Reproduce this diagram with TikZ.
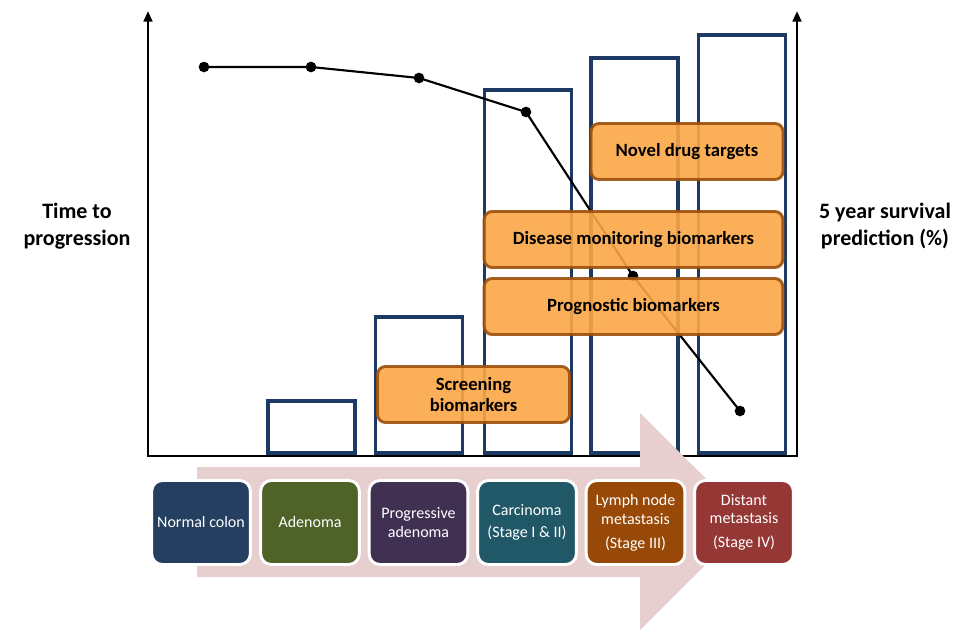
\documentclass[tikz,border=0pt]{standalone}
\usepackage{fontspec}
\setmainfont{Carlito}
\usetikzlibrary{arrows.meta,positioning}

\definecolor{barblue}{RGB}{28,58,100}
\definecolor{markfill}{RGB}{251,166,70}
\definecolor{markedge}{RGB}{156,80,12}
\definecolor{flowpink}{RGB}{231,206,207}
\definecolor{stnavy}{RGB}{36,63,96}
\definecolor{stolive}{RGB}{79,98,40}
\definecolor{stplum}{RGB}{64,49,82}
\definecolor{stteal}{RGB}{33,88,104}
\definecolor{strust}{RGB}{152,72,7}
\definecolor{stred}{RGB}{149,55,53}

\tikzset{
	axisline/.style={line width=2.2pt, black},
	axistip/.style={-{Triangle[length=8pt,width=6.5pt]}},
	barline/.style={line width=2.4pt, barblue},
	trendline/.style={line width=1.6pt, black},
	markbox/.style={draw=markedge, fill=markfill, line width=2.2pt, rounded corners=6pt,
		opacity=0.9, text opacity=1, align=center, font=\fontsize{14}{16}\selectfont\bfseries,
		minimum height=42pt},
	stagebox/.style={draw=white, line width=2.2pt, rounded corners=8pt, text=white,
		minimum width=74pt, minimum height=63pt, align=center,
		font=\fontsize{12}{14}\selectfont},
	sidelabel/.style={align=center, font=\fontsize{16.5}{20}\selectfont\bfseries}
}

\begin{document}
\begin{tikzpicture}[x=0.75pt, y=-0.75pt]
	\useasboundingbox (0,0) rectangle (956,630);

	% axes
	\coordinate (origin) at (148,456);
	\coordinate (ytop) at (148,11);
	\coordinate (xend) at (797,456);
	\coordinate (ytopright) at (797,11);
	\draw [axisline, axistip] (origin) -- (ytop);
	\draw [axisline, axistip] (xend) -- (ytopright);
	\draw [axisline] ([xshift=-1.1pt]origin) -- ([xshift=1.1pt]xend);

	% bars
	\foreach \x/\h in {311.5/401, 419/317, 528/90, 634.5/58, 742/35} {
		\draw [barline] (\x-43.5,453) rectangle (\x+43.5,\h);
	}

	% survival line
	\foreach \n/\x/\y in {1/204/67, 2/311/67, 3/419/78, 4/526/112, 5/633/276, 6/740/411} {
		\coordinate (p\n) at (\x,\y);
	}
	\draw [trendline] (p1) -- (p2) -- (p3) -- (p4) -- (p5) -- (p6);
	\foreach \n in {1, ..., 6} {
		\fill (p\n) circle (4pt);
	}

	% biomarker boxes
	\node [markbox, minimum width=144pt] (screen) at (473.5,394.5) {Screening\\biomarkers};
	\node [markbox, minimum width=144pt] (drugs) at (687,151.5) {Novel drug targets};
	\node [markbox, minimum width=224pt] (monitor) at (633.5,239.5) {Disease monitoring biomarkers};
	\node [markbox, minimum width=224pt] (prognos) at (633.5,306.5) {Prognostic biomarkers};

	% side labels
	\node [sidelabel] (timelabel) at (77,226) {Time to\\progression};
	\node [sidelabel] (survlabel) at (885,226) {5 year survival\\prediction (\%)};

	% progression arrow
	\fill [flowpink] (197,467) -- (640,467) -- (640,413) -- (749,521.5) -- (640,630)
		-- (640,577) -- (197,577) -- cycle;

	% stages
	\node [stagebox, fill=stnavy] (normal) at (201,522.5) {Normal colon};
	\node [stagebox, fill=stolive] (adenoma) at (310,522.5) {Adenoma};
	\node [stagebox, fill=stplum] (progad) at (418.5,522.5) {Progressive\\adenoma};
	\node [stagebox, fill=stteal] (carcin) at (527,522.5) {Carcinoma\\[3pt](Stage I \& II)};
	\node [stagebox, fill=strust] (lymph) at (635.5,522.5) {Lymph node\\metastasis\\[4pt](Stage III)};
	\node [stagebox, fill=stred] (distant) at (744,522.5) {Distant\\metastasis\\[4pt](Stage IV)};
\end{tikzpicture}
\end{document}
